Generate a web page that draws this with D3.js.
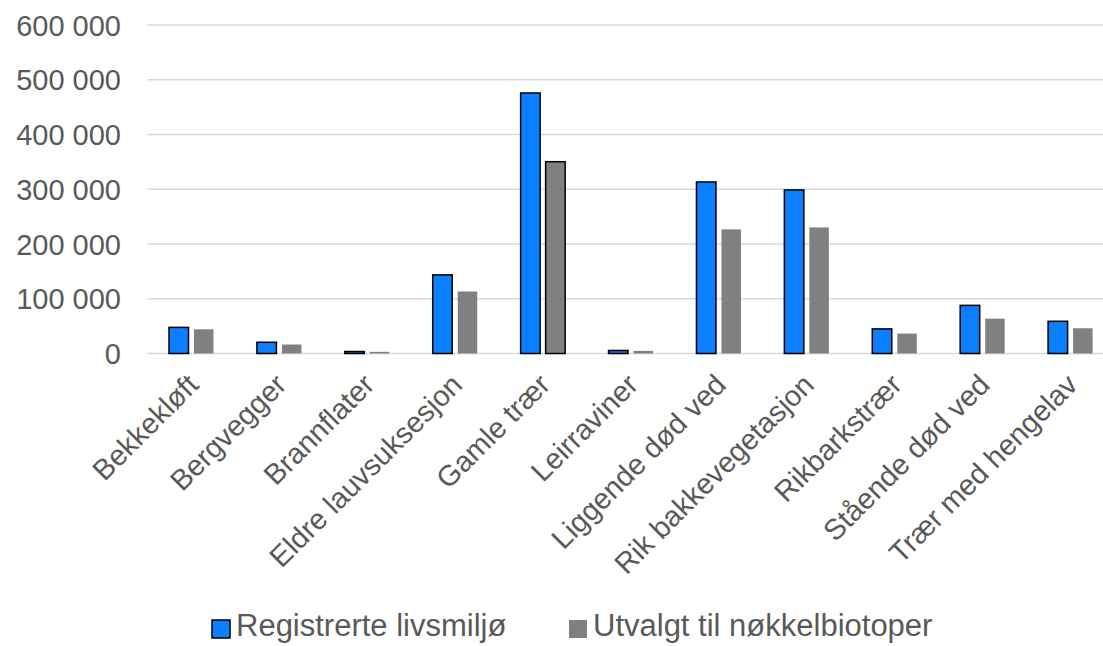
<!DOCTYPE html>
<html>
<head>
<meta charset="utf-8">
<script src="https://cdn.jsdelivr.net/npm/d3@7"></script>
<style>
  html, body { margin: 0; padding: 0; background: #fff; }
  svg { display: block; }
  text { font-family: "Liberation Sans", Arial, sans-serif; fill: #595959; }
</style>
</head>
<body>
<svg id="chart" width="1103" height="646"></svg>
<script>
const categories = ["Bekkekløft", "Bergvegger", "Brannflater", "Eldre lauvsuksesjon", "Gamle trær",
  "Leirraviner", "Liggende død ved", "Rik bakkevegetasjon", "Rikbarkstrær", "Stående død ved", "Trær med hengelav"];
const seriesNames = ["Registrerte livsmiljø", "Utvalgt til nøkkelbiotoper"];
const registrerte = [47700, 20500, 3600, 143600, 475800, 5500, 313300, 298700, 44900, 87900, 58800];
const utvalgt = [44200, 16400, 3000, 113300, 350300, 4800, 226700, 230300, 36400, 63600, 46100];
const yTicks = [0, 100000, 200000, 300000, 400000, 500000, 600000];

const colors = ["#0a7fff", "#808080"];
const svg = d3.select("#chart");
const margin = { left: 147.3, right: 1114.3, top: 25, bottom: 353.5 };

const x0 = d3.scaleBand().domain(categories).range([margin.left, margin.right])
  .paddingInner(0.4767).paddingOuter(0.4767 / 2);
const x1 = d3.scaleBand().domain(seriesNames).range([0, x0.bandwidth()]).paddingInner(0.16);
const y = d3.scaleLinear().domain([0, 600000]).range([margin.bottom, margin.top]);

const locale = d3.formatLocale({ decimal: ",", thousands: "\u00a0", grouping: [3], currency: ["", " kr"] });
const fmt = locale.format(",d");

// gridlines
svg.append("g").selectAll("line").data(yTicks).join("line")
  .attr("x1", margin.left).attr("x2", margin.right)
  .attr("y1", d => y(d)).attr("y2", d => y(d))
  .attr("stroke", "#d9d9d9").attr("stroke-width", 1.5);

// y axis labels
const yAxis = d3.axisLeft(y).tickValues(yTicks).tickFormat(fmt).tickSize(0).tickPadding(0);
const yg = svg.append("g").attr("transform", `translate(121,0)`).call(yAxis);
yg.select(".domain").remove();
yg.selectAll("text").attr("font-size", 29).style("fill", "#595959")
  .attr("font-family", "Liberation Sans, Arial, sans-serif").attr("dy", "0.35em");

// bars
const data = categories.map((c, i) => ({ cat: c, vals: [registrerte[i], utvalgt[i]] }));
const groups = svg.append("g").selectAll("g").data(data).join("g")
  .attr("transform", d => `translate(${x0(d.cat)},0)`);
groups.selectAll("rect").data(d => d.vals.map((v, j) => ({ cat: d.cat, s: seriesNames[j], j, v })))
  .join("rect")
  .attr("x", d => x1(d.s) + 0.75)
  .attr("width", x1.bandwidth() - 1.5)
  .attr("y", d => y(d.v))
  .attr("height", d => Math.max(0, y(0) - y(d.v)))
  .attr("fill", d => colors[d.j])
  .attr("stroke", d => (d.j === 0 || d.cat === "Gamle trær") ? "#000" : "none")
  .attr("stroke-width", 1.5);

// x axis labels
const xAxis = d3.axisBottom(x0).tickSize(0).tickPadding(0);
const xg = svg.append("g").attr("transform", `translate(0,${margin.bottom})`).call(xAxis);
xg.select(".domain").remove();
xg.selectAll("text")
  .attr("font-size", 29).style("fill", "#595959")
  .attr("font-family", "Liberation Sans, Arial, sans-serif")
  .attr("text-anchor", "end")
  .attr("dy", null).attr("y", 0)
  .attr("transform", "translate(9,33) rotate(-45)");

// legend
const legend = svg.append("g");
const legendItems = [
  { name: seriesNames[0], x: 212, color: colors[0], stroke: "#000" },
  { name: seriesNames[1], x: 569, color: colors[1], stroke: "none" }
];
legendItems.forEach(it => {
  legend.append("rect").attr("x", it.x).attr("y", 620).attr("width", 18).attr("height", 18)
    .attr("fill", it.color).attr("stroke", it.stroke).attr("stroke-width", 1.5);
  legend.append("text").attr("x", it.x + 24).attr("y", 636).attr("font-size", 31).text(it.name);
});
</script>
</body>
</html>
